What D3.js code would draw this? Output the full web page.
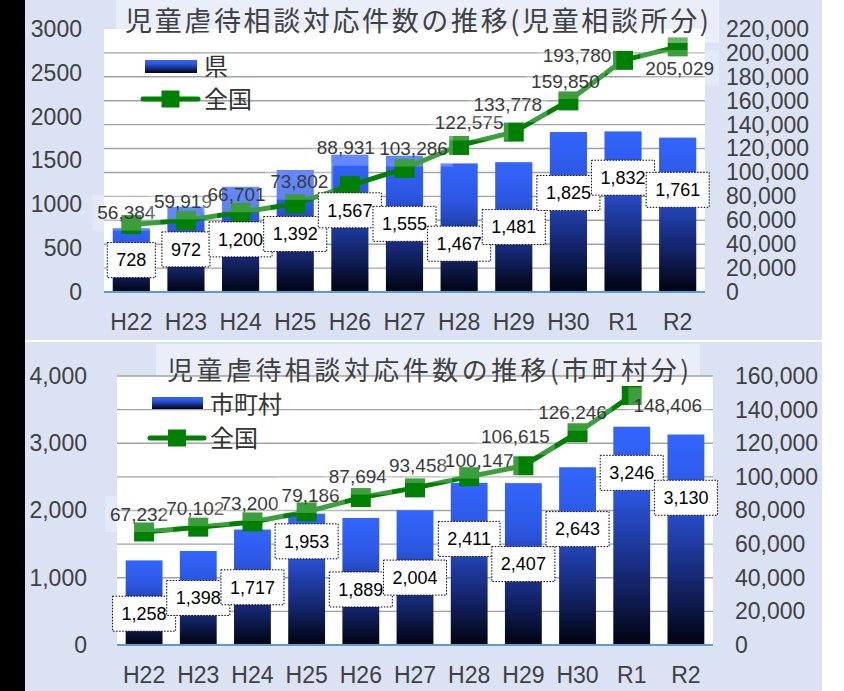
<!DOCTYPE html>
<html>
<head>
<meta charset="utf-8">
<script src="https://cdn.jsdelivr.net/npm/d3@7"></script>
<style>
  body { margin: 0; background: #fff; }
  svg { display: block; }
</style>
</head>
<body>
<div id="chart"></div>
<script>
// years on the x axis
const years = ["H22", "H23", "H24", "H25", "H26", "H27", "H28", "H29", "H30", "R1", "R2"];

// top chart: 児童相談所 (県) and 全国
const prefCases = [728, 972, 1200, 1392, 1567, 1555, 1467, 1481, 1825, 1832, 1761];
const nationalCases = [56384, 59919, 66701, 73802, 88931, 103286, 122575, 133778, 159850, 193780, 205029];
const prefTicks = [0, 500, 1000, 1500, 2000, 2500, 3000];
const nationalTicks = [0, 20000, 40000, 60000, 80000, 100000, 120000, 140000, 160000, 180000, 200000, 220000];

// bottom chart: 市町村 and 全国 (no R2 national figure)
const muniCases = [1258, 1398, 1717, 1953, 1889, 2004, 2411, 2407, 2643, 3246, 3130];
const nationalMuniCases = [67232, 70102, 73200, 79186, 87694, 93458, 100147, 106615, 126246, 148406, null];
const muniTicks = [0, 1000, 2000, 3000, 4000];
const nationalMuniTicks = [0, 20000, 40000, 60000, 80000, 100000, 120000, 140000, 160000];

const W = 844, H = 691;
const numFont = "'Liberation Sans', Arial, sans-serif";
const jpFont = "'Noto Sans CJK JP', 'Noto Sans', sans-serif";

const svg = d3.select("#chart").append("svg")
    .attr("width", W)
    .attr("height", H);

// bar gradient, bright blue at the top to near black at the bottom
const grad = svg.append("defs").append("linearGradient")
    .attr("id", "barGrad")
    .attr("x1", 0).attr("y1", 0).attr("x2", 0).attr("y2", 1);
grad.append("stop").attr("offset", "0%").attr("stop-color", "#3366ff");
grad.append("stop").attr("offset", "30%").attr("stop-color", "#2c56e0");
grad.append("stop").attr("offset", "70%").attr("stop-color", "#15266e");
grad.append("stop").attr("offset", "100%").attr("stop-color", "#00030f");

// black strip down the left edge
svg.append("rect").attr("x", 0).attr("y", 0).attr("width", 25).attr("height", H).attr("fill", "#000");

const panels = [
    {
        top: 0, bottom: 340,
        title: "児童虐待相談対応件数の推移(児童相談所分)",
        titleBox: [116, 0, 603, 43], titleX: 125, titleW: 584, titleY: 31, titleSize: 27,
        plot: { left: 104, right: 705, top: 29, bottom: 292 },
        bars: prefCases, line: nationalCases,
        leftTicks: prefTicks, rightTicks: nationalTicks,
        leftFmt: d3.format("d"), leftX: 82, rightX: 726, catY: 322,
        topGrid: false,
        barName: "県",
        legend: { rectX: 145, rectY: 60, rectW: 52, rectH: 13, textX: 204, text1Y: 75, lineX1: 143, lineX2: 198, lineY: 99, text2Y: 108 },
        barNudge: [0, 0, 0, 3, -13, 0, 16, 0, -19, -34, -25],
        lineNudge: [[-5, -12], [-3, -19], [-4, -18], [4, -22], [-4, -38], [9, -20], [10, -23], [-6, -28], [-3, -20], [-46, -5], [2, 21]]
    },
    {
        top: 342, bottom: 691,
        title: "児童虐待相談対応件数の推移(市町村分)",
        titleBox: [156, 344, 544, 31], titleX: 167, titleW: 522, titleY: 380, titleSize: 26,
        plot: { left: 117, right: 713, top: 376, bottom: 645 },
        bars: muniCases, line: nationalMuniCases,
        leftTicks: muniTicks, rightTicks: nationalMuniTicks,
        leftFmt: d3.format(","), leftX: 87, rightX: 735, catY: 675,
        topGrid: true,
        barName: "市町村",
        legend: { rectX: 152, rectY: 397, rectW: 51, rectH: 12, textX: 210, text1Y: 413, lineX1: 150, lineX2: 204, lineY: 438, text2Y: 447 },
        barNudge: [11, 0, 0, -38, 8, 0, -25, 0, -27, -63, -42],
        lineNudge: [[-5, -18], [-3, -19], [-3, -19], [4, -17], [-3, -21], [3, -23], [10, -16], [-8, -29], [-5, -20], [36, 10], [0, 0]]
    }
];

panels.forEach(drawPanel);

function drawPanel(p) {
    const g = svg.append("g");
    const pl = p.plot;

    // panel background
    g.append("rect")
        .attr("x", 25).attr("y", p.top)
        .attr("width", 822 - 25).attr("height", p.bottom - p.top)
        .attr("fill", "#dae2f3");

    // plot area
    g.append("rect")
        .attr("x", pl.left).attr("y", pl.top)
        .attr("width", pl.right - pl.left).attr("height", pl.bottom - pl.top)
        .attr("fill", "#fff");

    const x = d3.scaleBand()
        .domain(years)
        .range([pl.left, pl.right])
        .paddingInner(0.32)
        .paddingOuter(0.16);
    const cx = d => x(d) + x.bandwidth() / 2;

    const leftMax = d3.max(p.leftTicks);
    const rightMax = d3.max(p.rightTicks);
    const yL = d3.scaleLinear().domain([0, leftMax]).range([pl.bottom, pl.top]);
    const yR = d3.scaleLinear().domain([0, rightMax]).range([pl.bottom, pl.top]);

    // gridlines follow the right axis
    g.selectAll(".grid")
        .data(p.rightTicks.filter(t => t > 0 && (p.topGrid || t < rightMax)))
        .enter().append("line")
        .attr("x1", pl.left).attr("x2", pl.right)
        .attr("y1", d => yR(d)).attr("y2", d => yR(d))
        .attr("stroke", "#a3a3a3")
        .attr("stroke-width", 1.4);

    // bars
    g.selectAll(".bar")
        .data(p.bars)
        .enter().append("rect")
        .attr("x", (d, i) => x(years[i]))
        .attr("y", d => yL(d))
        .attr("width", x.bandwidth())
        .attr("height", d => yL(0) - yL(d))
        .attr("fill", "url(#barGrad)");

    // category axis baseline
    g.append("line")
        .attr("x1", pl.left).attr("x2", pl.right)
        .attr("y1", pl.bottom).attr("y2", pl.bottom)
        .attr("stroke", "#5b9bd5")
        .attr("stroke-width", 2);

    // national line + markers
    const pts = p.line.map((v, i) => ({ year: years[i], v: v, i: i })).filter(d => d.v != null);
    const line = d3.line()
        .x(d => cx(d.year))
        .y(d => yR(d.v));
    g.append("path")
        .datum(pts)
        .attr("d", line)
        .attr("fill", "none")
        .attr("stroke", "#008000")
        .attr("stroke-width", 5)
        .attr("stroke-linejoin", "round");
    g.selectAll(".mk")
        .data(pts)
        .enter().append("rect")
        .attr("x", d => cx(d.year) - 10)
        .attr("y", d => yR(d.v) - 9.5)
        .attr("width", 20).attr("height", 19)
        .attr("fill", "#008000");

    // national value labels with faint white boxes
    const nl = g.selectAll(".nl")
        .data(pts)
        .enter().append("g")
        .attr("transform", d => `translate(${cx(d.year) + p.lineNudge[d.i][0]},${yR(d.v) + p.lineNudge[d.i][1]})`);
    nl.append("rect").attr("class", "bg");
    nl.append("text")
        .attr("text-anchor", "middle")
        .attr("dy", "0.35em")
        .style("font-family", numFont)
        .style("font-size", "19px")
        .attr("fill", "#3a3a3a")
        .text(d => d3.format(",")(d.v));
    nl.each(function () {
        const t = d3.select(this).select("text").node().getComputedTextLength();
        d3.select(this).select("rect.bg")
            .attr("x", -t / 2 - 5).attr("y", -18)
            .attr("width", t + 10).attr("height", 36)
            .attr("fill", "#fff").attr("fill-opacity", 0.24);
    });

    // bar value labels in dotted boxes
    const bl = g.selectAll(".bl")
        .data(p.bars)
        .enter().append("g")
        .attr("transform", (d, i) => `translate(${cx(years[i])},${(yL(d) + yL(0)) / 2 + p.barNudge[i]})`);
    bl.append("rect").attr("class", "bg");
    bl.append("text")
        .attr("text-anchor", "middle")
        .attr("dy", "0.35em")
        .style("font-family", numFont)
        .style("font-size", "18px")
        .attr("fill", "#000")
        .text(d => d3.format(",")(d));
    bl.each(function () {
        const t = d3.select(this).select("text").node().getComputedTextLength();
        d3.select(this).select("rect.bg")
            .attr("x", -t / 2 - 9).attr("y", -17.5)
            .attr("width", t + 18).attr("height", 35)
            .attr("fill", "#fff")
            .attr("stroke", "#000").attr("stroke-width", 1)
            .attr("stroke-dasharray", "1.5,1.5");
    });

    // title
    const tb = p.titleBox;
    g.append("rect")
        .attr("x", tb[0]).attr("y", tb[1]).attr("width", tb[2]).attr("height", tb[3])
        .attr("fill", "#fff").attr("fill-opacity", 0.42);
    g.append("text")
        .attr("x", p.titleX).attr("y", p.titleY)
        .attr("textLength", p.titleW)
        .attr("lengthAdjust", "spacing")
        .style("font-family", jpFont)
        .style("font-size", p.titleSize + "px")
        .attr("fill", "#404040")
        .text(p.title);

    // legend
    const lg = p.legend;
    g.append("rect")
        .attr("x", lg.rectX).attr("y", lg.rectY)
        .attr("width", lg.rectW).attr("height", lg.rectH)
        .attr("fill", "url(#barGrad)");
    g.append("text")
        .attr("x", lg.textX).attr("y", lg.text1Y)
        .style("font-family", jpFont).style("font-size", "24px")
        .attr("fill", "#333")
        .text(p.barName);
    g.append("line")
        .attr("x1", lg.lineX1).attr("x2", lg.lineX2)
        .attr("y1", lg.lineY).attr("y2", lg.lineY)
        .attr("stroke", "#008000").attr("stroke-width", 5)
        .attr("stroke-linecap", "round");
    g.append("rect")
        .attr("x", (lg.lineX1 + lg.lineX2) / 2 - 9).attr("y", lg.lineY - 8.5)
        .attr("width", 18).attr("height", 17)
        .attr("fill", "#008000");
    g.append("text")
        .attr("x", lg.textX).attr("y", lg.text2Y)
        .style("font-family", jpFont).style("font-size", "24px")
        .attr("fill", "#333")
        .text("全国");

    // axes: labels only
    const styleAxis = sel => {
        sel.select(".domain").remove();
        sel.selectAll("line").remove();
        sel.selectAll("text")
            .style("font-family", numFont)
            .style("font-size", "23px")
            .attr("fill", "#404040");
    };
    g.append("g")
        .attr("transform", `translate(${p.leftX},0)`)
        .call(d3.axisLeft(yL).tickValues(p.leftTicks).tickSize(0).tickPadding(0).tickFormat(p.leftFmt))
        .call(styleAxis);
    g.append("g")
        .attr("transform", `translate(${p.rightX},0)`)
        .call(d3.axisRight(yR).tickValues(p.rightTicks).tickSize(0).tickPadding(0).tickFormat(d3.format(",")))
        .call(styleAxis);
    g.append("g")
        .attr("transform", `translate(0,${p.catY})`)
        .call(d3.axisBottom(x).tickSize(0).tickPadding(0))
        .call(styleAxis)
        .selectAll("text").attr("y", 0).attr("dy", "0.35em");
}
</script>
</body>
</html>
